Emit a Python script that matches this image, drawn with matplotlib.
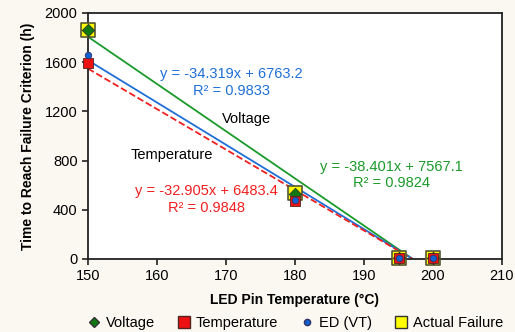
import numpy as np
import matplotlib.pyplot as plt
from matplotlib.lines import Line2D

plt.rcParams['font.family'] = ['Liberation Sans', 'DejaVu Sans']

# Data
temps = [150, 180, 195, 200]
voltage = [1860, 530, 10, 10]
temperature = [1590, 470, 10, 10]
ed_vt = [1660, 480, 10, 10]
actual = [1860, 540, 10, 10]

# Linear fits (from the chart's trendline labels)
fit_v = (-38.401, 7567.1)
fit_t = (-32.905, 6483.4)
fit_ed = (-34.319, 6763.2)

fig = plt.figure(figsize=(5.15, 3.32), dpi=100, facecolor='#fbf8f1')
ax = fig.add_axes([88 / 515, 1 - 259 / 332, (502 - 88) / 515, (259 - 13) / 332])
ax.set_facecolor('white')

green = '#1a9a2a'
blue = '#1f6fd6'
red = '#f02020'

# Trend lines, drawn to where they cross zero
for (m, b), col, ls in [(fit_v, green, '-'), (fit_ed, blue, '-'), (fit_t, red, '--')]:
    x0 = -b / m
    xs = np.array([150, x0])
    ax.plot(xs, m * xs + b, color=col, ls=ls, lw=1.3, zorder=2)

ax.scatter(temps, actual, marker='s', s=110, c='#ffff00', edgecolors='#555533', linewidths=1.2, zorder=3, clip_on=False)
ax.scatter(temps, voltage, marker='D', s=40, c='#117711', edgecolors='#333333', linewidths=0.6, zorder=4, clip_on=False)
ax.scatter(temps, temperature, marker='s', s=55, c='#ee1111', edgecolors='#552222', linewidths=0.6, zorder=4, clip_on=False)
ax.scatter(temps, ed_vt, marker='o', s=22, c='#1060d0', edgecolors='#333366', linewidths=0.6, zorder=5, clip_on=False)

ax.set_xlim(150, 210)
ax.set_ylim(0, 2000)
ax.set_xticks(range(150, 211, 10))
ax.set_yticks(range(0, 2001, 400))
ax.tick_params(labelsize=10.5, length=4, width=1.2, color='#222222', direction='out')
for s in ax.spines.values():
    s.set_linewidth(1.3)
    s.set_color('#222222')

ax.set_xlabel('LED Pin Temperature (\u00b0C)', fontsize=10, fontweight='bold', labelpad=7)
ax.set_ylabel('Time to Reach Failure Criterion (h)', fontsize=10, fontweight='bold', labelpad=7)

ax.text(170.8, 1435, 'y = -34.319x + 6763.2\nR\u00b2 = 0.9833', color=blue, fontsize=10.5,
        ha='center', va='center', linespacing=1.2)
ax.text(173, 1140, 'Voltage', color='black', fontsize=10.5, ha='center', va='center')
ax.text(162.2, 845, 'Temperature', color='black', fontsize=10.5, ha='center', va='center')
ax.text(167.2, 484, 'y = -32.905x + 6483.4\nR\u00b2 = 0.9848', color=red, fontsize=10.5,
        ha='center', va='center', linespacing=1.2)
ax.text(194, 680, 'y = -38.401x + 7567.1\nR\u00b2 = 0.9824', color=green, fontsize=10.5,
        ha='center', va='center', linespacing=1.2)

handles = [
    Line2D([], [], marker='D', ls='none', markersize=5, markerfacecolor='#117711', markeredgecolor='#333333', label='Voltage'),
    Line2D([], [], marker='s', ls='none', markersize=8, markerfacecolor='#ee1111', markeredgecolor='#552222', label='Temperature'),
    Line2D([], [], marker='o', ls='none', markersize=4.5, markerfacecolor='#1060d0', markeredgecolor='#333366', label='ED (VT)'),
    Line2D([], [], marker='s', ls='none', markersize=9, markerfacecolor='#ffff00', markeredgecolor='#333333', label='Actual Failure'),
]
fig.legend(handles=handles, loc='center', bbox_to_anchor=(295 / 515, 1 - 323 / 332), ncol=4, frameon=False,
           fontsize=10.5, handletextpad=0.3, columnspacing=1.5, handlelength=1.0)

fig.savefig('out.png', dpi=100, facecolor=fig.get_facecolor())
